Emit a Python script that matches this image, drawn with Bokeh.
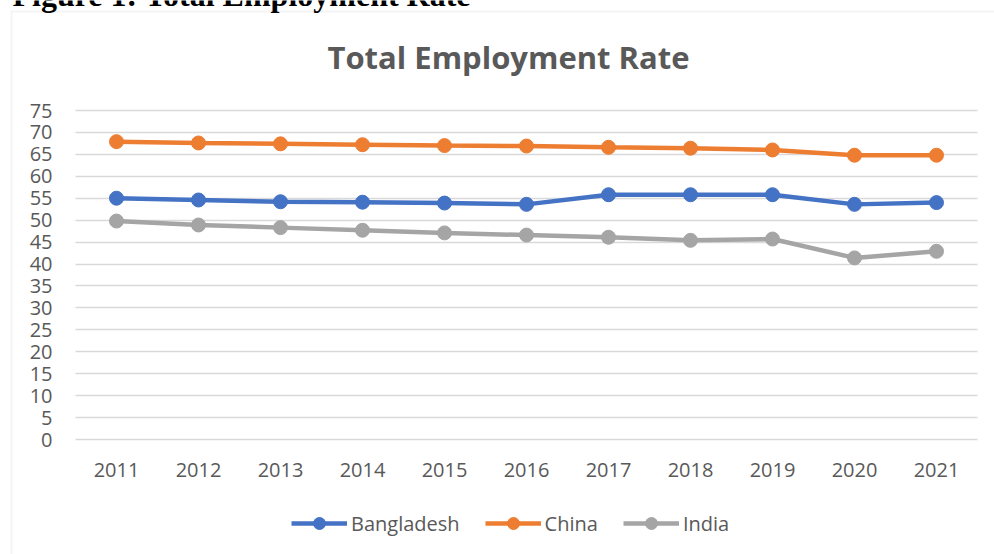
from bokeh.plotting import figure
from bokeh.models import (Label, BoxAnnotation, Legend, LegendItem, Range1d, FixedTicker,
                          LinearAxis)
from bokeh.embed import file_html
from bokeh.resources import INLINE

years = [2011, 2012, 2013, 2014, 2015, 2016, 2017, 2018, 2019, 2020, 2021]
year_labels = {y: str(y) for y in years}
bangladesh = [55.0, 54.6, 54.2, 54.1, 53.9, 53.6, 55.8, 55.8, 55.8, 53.6, 54.0]
china = [67.9, 67.6, 67.4, 67.2, 67.0, 66.9, 66.6, 66.4, 66.0, 64.8, 64.8]
india = [49.8, 48.9, 48.3, 47.7, 47.1, 46.6, 46.1, 45.4, 45.7, 41.4, 42.9]
y_ticks = list(range(0, 80, 5))

series = [("Bangladesh", bangladesh, "#4472C4"),
          ("China", china, "#ED7D31"),
          ("India", india, "#A5A5A5")]

TEXT = "#595959"
GRID = "#D9D9D9"
FONT = "Open Sans"

W, H = 994, 554
# plot area in page pixels
PL, PR, PT, PB = 75, 977, 110, 439
YMIN, YMAX = 0, 75
x_lo, x_hi = years[0] - 0.5, years[-1] + 0.5
ppx = (PR - PL) / (x_hi - x_lo)
ppy = (PB - PT) / (YMAX - YMIN)
x_range = Range1d(x_lo - PL / ppx, x_hi + (W - PR) / ppx)
y_range = Range1d(YMIN - (H - PB) / ppy, YMAX + PT / ppy)

p = figure(width=W, height=H, x_range=x_range, y_range=y_range,
           output_backend="svg", toolbar_location=None,
           x_axis_location=None, y_axis_location=None,
           min_border=0)
p.outline_line_color = None
p.background_fill_color = "white"
p.border_fill_color = "white"
p.grid.visible = False

# y axis: its inward ticks form the horizontal gridlines across the plot area
yax = LinearAxis(fixed_location=x_lo, ticker=FixedTicker(ticks=y_ticks), bounds=(YMIN, YMAX),
                 level="underlay")
yax.axis_line_color = None
yax.major_tick_out = 0
yax.major_tick_in = PR - PL
yax.major_tick_line_color = GRID
yax.major_tick_line_width = 1.5
yax.minor_tick_line_color = None
yax.major_label_standoff = 23
yax.major_label_text_color = TEXT
yax.major_label_text_font = FONT
yax.major_label_text_font_size = "20px"
p.add_layout(yax, "left")

xax = LinearAxis(fixed_location=YMIN, ticker=FixedTicker(ticks=years), bounds=(x_lo, x_hi),
                 major_label_overrides=year_labels, level="underlay")
xax.axis_line_color = None
xax.major_tick_line_color = None
xax.minor_tick_line_color = None
xax.major_tick_out = 0
xax.major_tick_in = 0
xax.major_label_standoff = 23
xax.major_label_text_color = TEXT
xax.major_label_text_font = FONT
xax.major_label_text_font_size = "20px"
p.add_layout(xax, "below")

items = []
for name, vals, col in series:
    ln = p.line(x=years, y=vals, line_color=col, line_width=4.5)
    sc = p.scatter(x=years, y=vals, size=14, fill_color=col, line_color=col)
    items.append(LegendItem(label=name, renderers=[ln, sc]))

legend = Legend(items=items, orientation="horizontal", location=(291, H - 538),
                border_line_color=None, background_fill_alpha=0,
                label_text_font=FONT, label_text_font_size="20px", label_text_color=TEXT,
                glyph_width=56, glyph_height=30, spacing=25, label_standoff=4,
                padding=0, margin=0)
p.add_layout(legend, "center")

box = BoxAnnotation(left=11, right=W + 50, top=H - 11, bottom=-50,
                    left_units="screen", right_units="screen", top_units="screen",
                    bottom_units="screen", fill_alpha=0, line_color=GRID, line_width=2)
p.add_layout(box)

title = Label(x=508, y=H - 56, x_units="screen", y_units="screen",
              text="Total Employment Rate", text_align="center", text_baseline="middle",
              text_font=FONT, text_font_style="bold", text_font_size="31px", text_color=TEXT)
p.add_layout(title)

caption = Label(x=12, y=H + 6, x_units="screen", y_units="screen",
                text="Figure 1: Total Employment Rate", text_align="left",
                text_baseline="alphabetic", text_font="Liberation Serif",
                text_font_style="bold", text_font_size="32px", text_color="black")
p.add_layout(caption)

open("out.html", "w").write(file_html(p, INLINE))
